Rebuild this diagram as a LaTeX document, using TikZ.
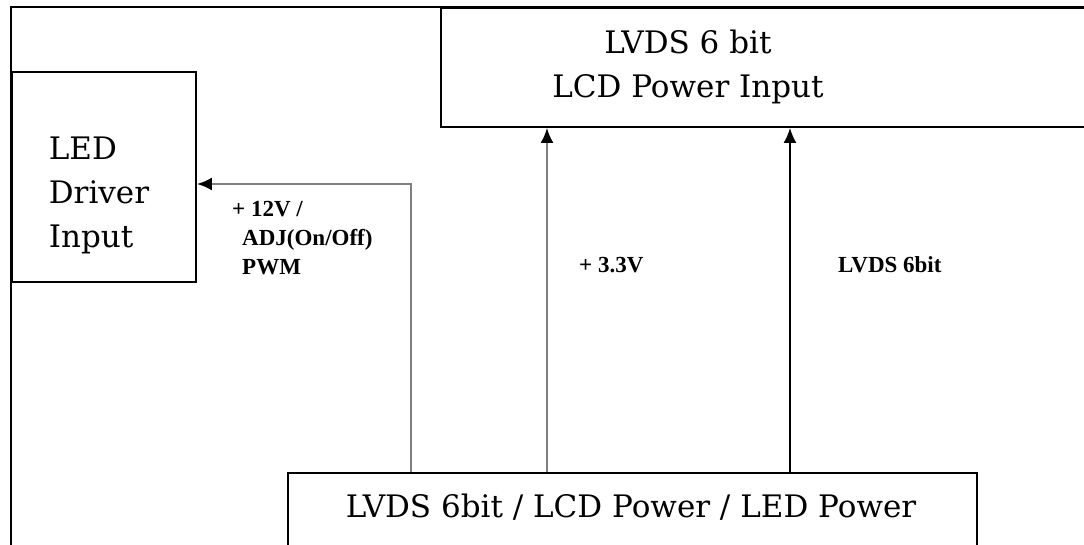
\documentclass[tikz,border=0pt]{standalone}
\usepackage{fontspec}
\setmainfont{DejaVu Serif}
\newfontfamily\smallfont{Liberation Serif}
\usetikzlibrary{arrows.meta}
\begin{document}
\begin{tikzpicture}[x=1pt,y=-1pt,
  frame/.style={draw=black,line width=1.9pt},
  box/.style={draw=black,line width=1.9pt,inner sep=0pt,anchor=north west},
  bigtext/.style={font=\fontsize{31}{44}\selectfont,inner sep=0pt},
  lbl/.style={font=\smallfont\bfseries\fontsize{23}{29}\selectfont,inner sep=0pt,anchor=west,align=left},
  garrow/.style={draw=black!50,line width=2.2pt,-{Latex[length=15pt,width=13pt,color=black]}},
  barrow/.style={draw=black,line width=1.9pt,-{Latex[length=15pt,width=13pt,color=black]}}]
\clip (0,0) rectangle (1084,544);
\fill[white] (0,0) rectangle (1084,544);
% outer frame
\draw[frame] (11,560) -- (11,7) -- (1100,7);
% boxes
\node[box,minimum width=184pt,minimum height=210pt] (led) at (11,71) {};
\node[box,minimum width=700pt,minimum height=119pt] (lcd) at (440,7) {};
\node[box,minimum width=689pt,minimum height=120pt] (src) at (287,472) {};
% box texts
\node[bigtext,align=left] (ledtxt) at (99,195) {LED\\Driver\\Input};
\node[bigtext,align=center] (lcdtxt) at (688,67) {LVDS 6 bit\\LCD Power Input};
\node[bigtext] (srctxt) at (631,507) {LVDS 6bit / LCD Power / LED Power};
% connectors
\draw[garrow] (src.north -| 411,0) -- (411,184) -- (led.east |- 0,184);
\draw[garrow] (src.north -| 547,0) -- (lcd.south -| 547,0);
\draw[barrow] (src.north -| 790,0) -- (lcd.south -| 790,0);
% labels
\node[lbl] (l12) at (232,238) {+ 12V /\\\hspace*{10pt}ADJ(On/Off)\\\hspace*{10pt}PWM};
\node[lbl] (l33) at (579,265) {+ 3.3V};
\node[lbl] (llvds) at (838,265) {LVDS 6bit};
\end{tikzpicture}
\end{document}
